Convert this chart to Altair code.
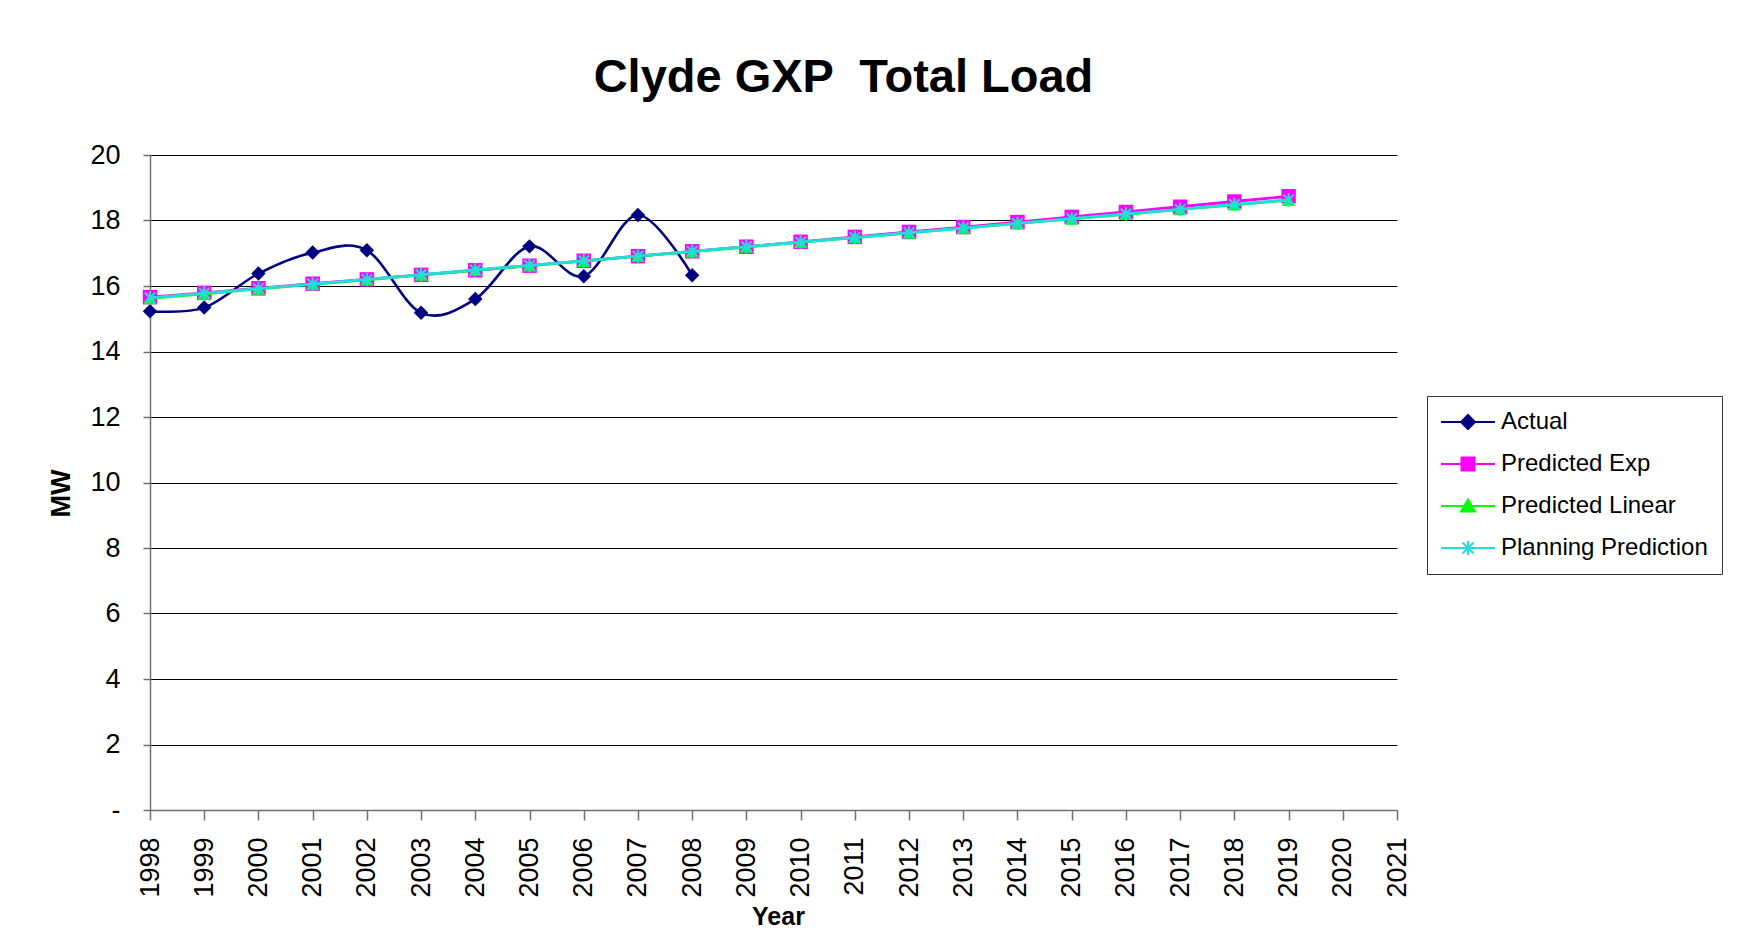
import altair as alt
import pandas as pd

# ---- data ----
SERIES = ["Actual", "Predicted Exp", "Predicted Linear", "Planning Prediction"]
COLORS = ["#000080", "#FF00FF", "#00FF00", "#22DDDD"]

ACTUAL_YEARS = [1998, 1999, 2000, 2001, 2002, 2003, 2004, 2005, 2006, 2007, 2008]
ACTUAL = [15.23, 15.34, 16.38, 17.02, 17.09, 15.18, 15.60, 17.21, 16.30, 18.17, 16.33]

PRED_YEARS = [1998, 1999, 2000, 2001, 2002, 2003, 2004, 2005, 2006, 2007, 2008,
              2009, 2010, 2011, 2012, 2013, 2014, 2015, 2016, 2017, 2018, 2019]
PRED_EXP = [15.66, 15.79, 15.93, 16.07, 16.20, 16.34, 16.48, 16.62, 16.77, 16.91, 17.06,
            17.20, 17.35, 17.50, 17.65, 17.80, 17.95, 18.11, 18.26, 18.42, 18.58, 18.74]
PRED_LINEAR = [15.62, 15.76, 15.91, 16.05, 16.19, 16.34, 16.48, 16.62, 16.76, 16.91, 17.05,
               17.19, 17.34, 17.48, 17.62, 17.77, 17.91, 18.05, 18.19, 18.34, 18.48, 18.62]
PLANNING = [15.64, 15.78, 15.92, 16.06, 16.20, 16.35, 16.49, 16.63, 16.77, 16.91, 17.06,
            17.20, 17.34, 17.48, 17.63, 17.77, 17.91, 18.06, 18.20, 18.34, 18.49, 18.63]

X_TICKS = [1998, 1999, 2000, 2001, 2002, 2003, 2004, 2005, 2006, 2007, 2008, 2009,
           2010, 2011, 2012, 2013, 2014, 2015, 2016, 2017, 2018, 2019, 2020, 2021]
Y_TICKS = [0, 2, 4, 6, 8, 10, 12, 14, 16, 18, 20]

# double space kept visible with a no-break space
TITLE = "Clyde GXP \u00a0Total Load"

# ---- build table ----
rows = []
for yr, v in zip(ACTUAL_YEARS, ACTUAL):
    rows.append({"series": "Actual", "year": yr, "value": v})
for name, vals in [("Predicted Exp", PRED_EXP), ("Predicted Linear", PRED_LINEAR),
                   ("Planning Prediction", PLANNING)]:
    for yr, v in zip(PRED_YEARS, vals):
        rows.append({"series": name, "year": yr, "value": v})
df = pd.DataFrame(rows)

FONT = "Liberation Sans"


# ---- legend glyphs: a line segment plus a (hatch-filled) marker ----
def hl(yy, hw):
    return f"M{-hw:.2f},{yy:.2f}L{hw:.2f},{yy:.2f}"


HATCH = [-1.2, -0.9, -0.6, -0.3, 0.0, 0.3, 0.6, 0.9, 1.2]
SEG = "M-5.4,0L5.4,0"
diamond = SEG + "M0,-1.4L1.4,0L0,1.4L-1.4,0Z" + "".join(hl(h, 1.4 - abs(h)) for h in HATCH)
square = SEG + "M-1.3,-1.3L1.3,-1.3L1.3,1.3L-1.3,1.3Z" + "".join(hl(h, 1.3) for h in HATCH)
tri = SEG + "M0,-1.3L1.4,1.1L-1.4,1.1Z" + "".join(
    hl(h, 1.4 * (h + 1.3) / 2.4) for h in [-0.9, -0.6, -0.3, 0.0, 0.3, 0.6, 0.9])
aster = SEG + "M-1.1,-1.1L1.1,1.1M-1.1,1.1L1.1,-1.1M0,-1.4L0,1.4"
LEG_PATHS = [diamond, square, tri, aster]
ASTER = "M-1,-1L1,1M-1,1L1,-1M0,-1.3L0,1.3"

legend = alt.Legend(
    title=None, orient="none", legendX=1277, legendY=241,
    padding=14, strokeColor="#333333", fillColor="white",
    labelFont=FONT, labelFontSize=24, labelColor="black", labelLimit=400,
    rowPadding=18, symbolSize=100, symbolOffset=15, labelOffset=21,
    symbolStrokeWidth=2, symbolOpacity=1,
)

x = alt.X(
    "year:Q",
    scale=alt.Scale(domain=[1998, 2021], nice=False, zero=False),
    axis=alt.Axis(
        values=X_TICKS, format="d", labelAngle=270, grid=False,
        title="Year", titleX=628, titleY=114, titleAlign="center",
        titleBaseline="alphabetic", titleFontSize=25, titleFontWeight="bold",
        tickSize=10, labelPadding=17, labelFontSize=27,
    ),
)
y = alt.Y(
    "value:Q",
    scale=alt.Scale(domain=[0, 20], nice=False),
    axis=alt.Axis(
        values=Y_TICKS, labelExpr="datum.value == 0 ? '-' : datum.label",
        title="MW", titleAngle=270, titleX=-89, titleY=338, titleAlign="center",
        titleBaseline="middle", titleFontSize=27, titleFontWeight="bold",
        tickSize=7, labelPadding=23, labelFontSize=27,
        grid=True, gridColor="#000000", gridWidth=1,
    ),
)
color = alt.Color("series:N", scale=alt.Scale(domain=SERIES, range=COLORS), legend=legend)
shape = alt.Shape("series:N", scale=alt.Scale(domain=SERIES, range=LEG_PATHS), legend=legend)

MARKERS = [
    dict(shape="diamond", size=210, filled=True),
    dict(shape="square", size=210, filled=True),
    dict(shape="triangle-up", size=180, filled=True),
    dict(shape=ASTER, size=110, filled=False, strokeWidth=2),
]

# empty layer that only carries the legend glyphs
layers = [
    alt.Chart(df).transform_filter("false")
    .mark_point(filled=False, strokeWidth=2, opacity=1)
    .encode(x=x, y=y, color=color, shape=shape)
]
for i, name in enumerate(SERIES):
    sub = alt.Chart(df).transform_filter(alt.datum.series == name)
    if name == "Actual":
        line = sub.mark_line(strokeWidth=2.6, interpolate="cardinal", tension=0)
    else:
        line = sub.mark_line(strokeWidth=2.8)
    layers.append(line.encode(x=x, y=y, color=color, order="year:Q"))
    layers.append(sub.mark_point(opacity=1, **MARKERS[i]).encode(x=x, y=y, color=color))

chart = (
    alt.layer(*layers)
    .properties(
        width=1247,
        height=655,
        autosize=alt.AutoSizeParams(type="none"),
        padding={"left": 142, "top": 147, "right": 337, "bottom": 126},
        background="white",
        title=alt.TitleParams(
            TITLE, font=FONT, fontSize=47, fontWeight="bold", color="black",
            anchor="middle", frame="group", dx=70, offset=2, baseline="alphabetic",
        ),
    )
    .configure_view(stroke=None)
    .configure_axis(
        labelFont=FONT, titleFont=FONT, labelColor="black", titleColor="black",
        domainColor="#707070", domainWidth=1.5, tickColor="#707070", tickWidth=1.5,
    )
)

chart.save("out.html", embed_options={"renderer": "svg", "actions": False})
